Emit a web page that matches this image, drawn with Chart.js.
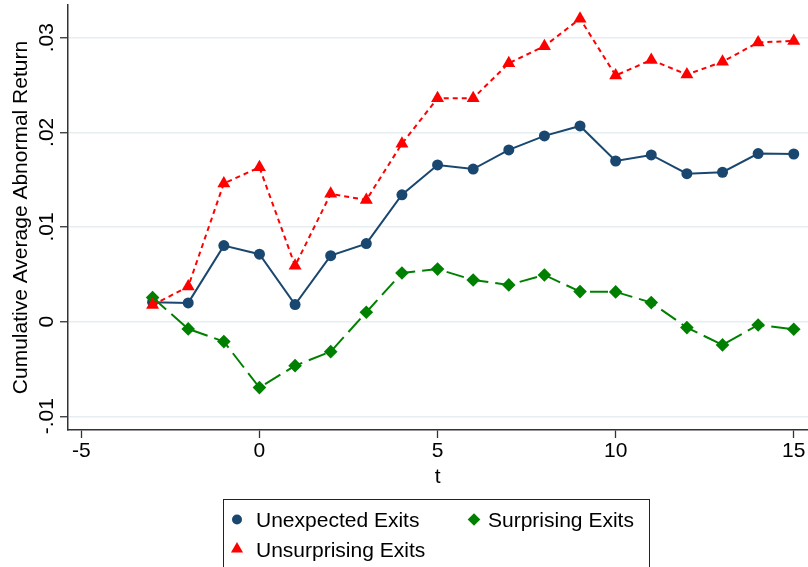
<!DOCTYPE html>
<html>
<head>
<meta charset="utf-8">
<script src="https://cdn.jsdelivr.net/npm/chart.js@4/dist/chart.umd.min.js"></script>
<style>
  html, body { margin: 0; padding: 0; background: #ffffff; }
  #wrap { width: 808px; height: 567px; position: relative; }
</style>
</head>
<body>
<div id="wrap"><canvas id="car"></canvas></div>
<script>
// Event time (days relative to the exit announcement)
const eventTime = [-3, -2, -1, 0, 1, 2, 3, 4, 5, 6, 7, 8, 9, 10, 11, 12, 13, 14, 15];

// Cumulative average abnormal returns by group
const unexpectedExits = [0.00205, 0.00198, 0.00803, 0.00712, 0.00180, 0.00697, 0.00824, 0.01340, 0.01655, 0.01612,
                         0.01814, 0.01962, 0.02067, 0.01697, 0.01761, 0.01563, 0.01578, 0.01775, 0.01771];
const unsurprisingExits = [0.00175, 0.00370, 0.01460, 0.01630, 0.00590, 0.01350, 0.01285, 0.01880, 0.02360, 0.02360,
                           0.02730, 0.02910, 0.03200, 0.02600, 0.02765, 0.02610, 0.02745, 0.02950, 0.02965];
const surprisingExits = [0.00254, -0.00077, -0.00211, -0.00697, -0.00465, -0.00317, 0.00099, 0.00514, 0.00555, 0.00440,
                         0.00388, 0.00493, 0.00317, 0.00314, 0.00201, -0.00063, -0.00246, -0.00035, -0.00080];

// Axis ticks
const xTickValues = [-5, 0, 5, 10, 15];
const yTickValues = [-0.01, 0, 0.01, 0.02, 0.03];
const yTickLabels = ['-.01', '0', '.01', '.02', '.03'];

const seriesNames = ['Unexpected Exits', 'Surprising Exits', 'Unsurprising Exits'];

const FONT = '"Liberation Sans", Arial, Helvetica, sans-serif';
const NAVY = '#1a476f';
const RED = '#ff0000';
const GREEN = '#008000';

const pts = (ys) => eventTime.map((t, i) => ({ x: t, y: ys[i] }));

// Rotated y tick labels, axis titles and the boxed legend
const annotations = {
  id: 'annotations',
  afterDraw(chart) {
    const ctx = chart.ctx;
    const y = chart.scales.y;
    const x = chart.scales.x;
    ctx.save();
    ctx.fillStyle = '#000';
    ctx.font = '21px ' + FONT;

    // y tick labels, reading bottom to top
    y.ticks.forEach((tk) => {
      const idx = yTickValues.indexOf(tk.value);
      const py = y.getPixelForValue(tk.value);
      ctx.save();
      ctx.translate(52.5, py);
      ctx.rotate(-Math.PI / 2);
      ctx.textAlign = 'center';
      ctx.textBaseline = 'alphabetic';
      ctx.fillText(idx >= 0 ? yTickLabels[idx] : '', 0, 0);
      ctx.restore();
    });

    // y title
    ctx.save();
    ctx.translate(27, (chart.chartArea.top + chart.chartArea.bottom) / 2);
    ctx.rotate(-Math.PI / 2);
    ctx.textAlign = 'center';
    ctx.textBaseline = 'alphabetic';
    ctx.fillText('Cumulative Average Abnormal Return', 0, 0);
    ctx.restore();

    // x title
    ctx.textAlign = 'center';
    ctx.textBaseline = 'alphabetic';
    ctx.fillText('t', x.getPixelForValue(5), 483);

    // legend box
    ctx.strokeStyle = '#222';
    ctx.lineWidth = 1;
    ctx.strokeRect(223.5, 499.5, 426, 90);

    const ds = chart.data.datasets;
    const entries = [
      { d: ds[0], r: 5, mx: 237, my: 519.5, tx: 256, ty: 526.5 },
      { d: ds[1], r: 6.3, mx: 474, my: 519.5, tx: 488, ty: 526.5 },
      { d: ds[2], r: 7, mx: 237, my: 549, tx: 256, ty: 557 }
    ];
    entries.forEach((e) => {
      ctx.fillStyle = e.d.pointBackgroundColor;
      ctx.strokeStyle = e.d.pointBorderColor;
      Chart.helpers.drawPoint(ctx, {
        pointStyle: e.d.pointStyle,
        radius: e.r,
        borderWidth: 0,
        rotation: 0
      }, e.mx, e.my);
      ctx.fillStyle = '#000';
      ctx.textAlign = 'left';
      ctx.fillText(e.d.label, e.tx, e.ty);
    });
    ctx.restore();
  }
};

new Chart(document.getElementById('car'), {
  type: 'line',
  data: {
    datasets: [
      {
        label: seriesNames[0],
        data: pts(unexpectedExits),
        borderColor: NAVY,
        borderWidth: 2,
        pointStyle: 'circle',
        pointRadius: 5.5,
        pointBackgroundColor: NAVY,
        pointBorderColor: NAVY,
        pointBorderWidth: 0,
        tension: 0,
        order: 3
      },
      {
        label: seriesNames[1],
        data: pts(surprisingExits),
        borderColor: GREEN,
        borderWidth: 2,
        borderDash: [18, 7],
        pointStyle: 'rectRot',
        pointRadius: 6.8,
        pointBackgroundColor: GREEN,
        pointBorderColor: GREEN,
        pointBorderWidth: 0,
        tension: 0,
        order: 2
      },
      {
        label: seriesNames[2],
        data: pts(unsurprisingExits),
        borderColor: RED,
        borderWidth: 2,
        borderDash: [5, 4],
        pointStyle: 'triangle',
        pointRadius: 7.5,
        pointBackgroundColor: RED,
        pointBorderColor: RED,
        pointBorderWidth: 0,
        tension: 0,
        order: 1
      }
    ]
  },
  options: {
    responsive: true,
    maintainAspectRatio: false,
    animation: false,
    devicePixelRatio: 1,
    layout: { autoPadding: false, padding: { top: 5, right: 0, left: 0, bottom: 0 } },
    plugins: {
      legend: { display: false },
      tooltip: { enabled: false }
    },
    elements: { line: { fill: false } },
    scales: {
      x: {
        type: 'linear',
        min: -5.375,
        max: 15.4,
        afterBuildTicks: (s) => { s.ticks = xTickValues.map((v) => ({ value: v })); },
        afterFit: (s) => { s.height = 137; s.paddingLeft = 0; s.paddingRight = 0; },
        grid: {
          drawOnChartArea: false,
          drawTicks: true,
          tickLength: 8,
          tickColor: '#333',
          tickWidth: 1.3
        },
        border: { display: true, color: '#333', width: 1.5 },
        ticks: {
          color: '#000',
          font: { family: FONT, size: 21 },
          padding: 1,
          maxRotation: 0,
          callback: (v) => String(v)
        }
      },
      y: {
        type: 'linear',
        min: -0.01145,
        max: 0.03345,
        afterBuildTicks: (s) => { s.ticks = yTickValues.map((v) => ({ value: v })); },
        afterFit: (s) => { s.width = 68; s.paddingTop = 0; s.paddingBottom = 0; },
        grid: {
          color: '#e6eef1',
          lineWidth: 1.5,
          drawTicks: true,
          tickLength: 8,
          tickColor: '#333',
          tickWidth: 1.3
        },
        border: { display: true, color: '#333', width: 1.5 },
        ticks: { display: false }
      }
    }
  },
  plugins: [annotations]
});
</script>
</body>
</html>
